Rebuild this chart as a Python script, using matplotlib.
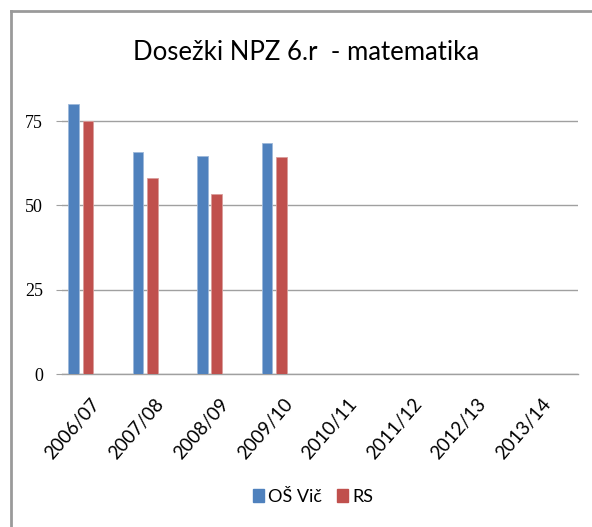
import matplotlib
matplotlib.use("Agg")
import matplotlib.pyplot as plt
from matplotlib.patches import Patch
from matplotlib.lines import Line2D
from matplotlib.transforms import ScaledTranslation
import numpy as np

categories = ["2006/07", "2007/08", "2008/09", "2009/10", "2010/11", "2011/12", "2012/13", "2013/14"]
os_vic = [80.1, 65.7, 64.5, 68.4, None, None, None, None]
rs = [75.0, 58.0, 53.5, 64.2, None, None, None, None]
series_names = ["OŠ Vič", "RS"]
yticks = [0, 25, 50, 75]
title = "Dosežki NPZ 6.r  - matematika"

blue = "#4F81BD"
red = "#C0504D"

fig = plt.figure(figsize=(5.92, 5.27), dpi=100)
ax = fig.add_axes([62.3/592, 1-374.3/527, (577.7-62.3)/592, (374.3-94)/527])

x = np.arange(len(categories))
w = 0.166
def vals(a):
    return [np.nan if v is None else v for v in a]
ax.bar(x - 0.324, vals(os_vic), width=w, color=blue, edgecolor="#9DB8DA", linewidth=0.6, zorder=3)
ax.bar(x - 0.102, vals(rs), width=w, color=red, edgecolor="#DA9D9B", linewidth=0.6, zorder=3)

ax.set_xlim(-0.5, len(categories) - 0.5)
ax.set_ylim(0, 83)
ax.set_yticks(yticks)
ax.set_yticklabels([str(t) for t in yticks], family="Liberation Serif", fontsize=13)
ax.yaxis.grid(True, color="#A0A0A0", linewidth=1.0, zorder=0)
ax.set_axisbelow(True)
for s in ["left", "right", "top"]:
    ax.spines[s].set_visible(False)
ax.spines["bottom"].set_color("#A0A0A0")
ax.spines["bottom"].set_linewidth(1.0)
ax.tick_params(axis="y", length=4, color="#A0A0A0", pad=10)
ax.tick_params(axis="x", length=0, pad=19)
ax.set_xticks(x)
ax.set_xticklabels(categories, rotation=49, ha="right", va="center", rotation_mode="anchor",
                   family="Lato", fontsize=13.5)
off = ScaledTranslation(2/100, 0, fig.dpi_scale_trans)
for lbl in ax.get_xticklabels():
    lbl.set_transform(lbl.get_transform() + off)

fig.text(306/592, 1-53/527, title, ha="center", va="center", family="Lato", fontsize=18.5)

# chart border (left and top visible)
fig.add_artist(Line2D([11/592, 11/592], [0, 1-11/527], transform=fig.transFigure, color="#9A9A9A", linewidth=2))
fig.add_artist(Line2D([11/592, 1], [1-11/527, 1-11/527], transform=fig.transFigure, color="#9A9A9A", linewidth=2))

handles = [Patch(facecolor=blue, edgecolor=blue), Patch(facecolor=red, edgecolor=red)]
fig.legend(handles, series_names, loc="center", bbox_to_anchor=(313/592, 1-497/527), ncol=2,
           frameon=False, prop={"family": "Lato", "size": 13}, handlelength=0.6, handleheight=0.75,
           handletextpad=0.25, columnspacing=0.8)

fig.savefig("out.png", dpi=100)
